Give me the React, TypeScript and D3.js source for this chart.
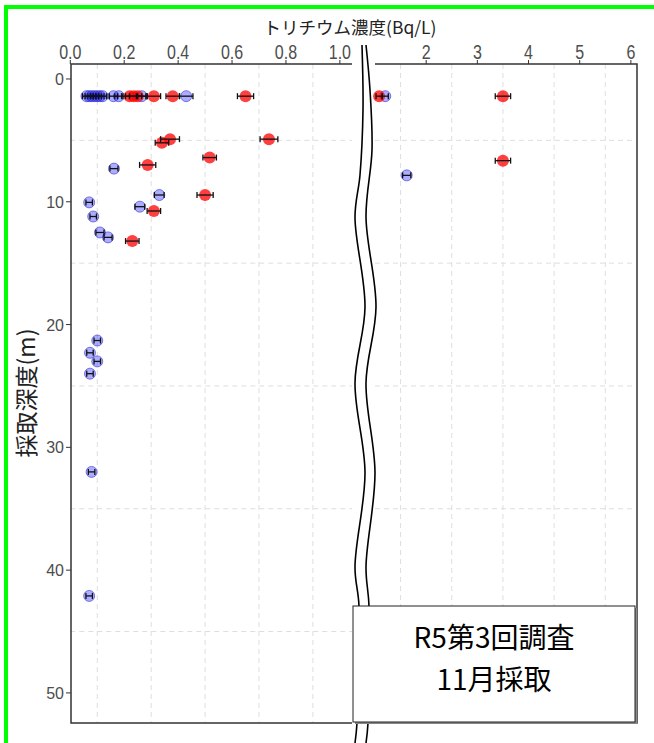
import React from "react";
import * as d3 from "d3";

// 採取深度(m) / トリチウム濃度(Bq/L) / 誤差
const blueDepth = [1.4, 1.4, 1.4, 1.4, 1.4, 1.4, 1.4, 1.4, 1.4, 1.4, 1.4, 1.4, 7.3, 9.45, 10.05, 10.4, 11.2, 12.5, 12.9, 7.85, 21.3, 22.3, 23.0, 24.0, 32.0, 42.1];
const blueValue = [0.06, 0.07, 0.08, 0.09, 0.1, 0.11, 0.12, 0.16, 0.18, 0.265, 0.43, 1.2, 0.162, 0.33, 0.07, 0.258, 0.085, 0.11, 0.14, 1.62, 0.1, 0.073, 0.1, 0.073, 0.079, 0.07];
const blueErr = [0.015, 0.015, 0.015, 0.015, 0.015, 0.015, 0.015, 0.015, 0.015, 0.02, 0.025, 0.06, 0.015, 0.018, 0.012, 0.018, 0.012, 0.015, 0.015, 0.08, 0.012, 0.012, 0.012, 0.012, 0.012, 0.012];

const redDepth = [1.4, 1.4, 1.4, 1.4, 1.4, 1.4, 1.4, 1.4, 4.9, 5.2, 4.9, 6.4, 7.0, 9.45, 10.75, 13.2, 6.65];
const redValue = [0.22, 0.235, 0.25, 0.31, 0.38, 0.65, 1.08, 3.5, 0.37, 0.34, 0.737, 0.517, 0.287, 0.5, 0.31, 0.23, 3.5];
const redErr = [0.03, 0.03, 0.03, 0.025, 0.025, 0.03, 0.06, 0.15, 0.035, 0.025, 0.033, 0.025, 0.03, 0.03, 0.025, 0.025, 0.15];

const leftTicks = [0, 0.2, 0.4, 0.6, 0.8, 1.0];
const rightTicks = [2, 3, 4, 5, 6];
const leftMinor = [0.1, 0.3, 0.5, 0.7, 0.9];
const rightMinor = [1.5, 2.5, 3.5, 4.5, 5.5];
const depthTicks = [0, 10, 20, 30, 40, 50];
const depthMinor = [5, 15, 25, 35, 45];

// 波線（省略記号）の通過点
const breakLeft: [number, number][] = [[362, 45], [363, 110], [360, 175], [355, 217], [365, 307], [355, 383], [365, 473], [355, 567], [359, 606], [357, 723], [355, 743]];
const breakRight: [number, number][] = [[366, 45], [370, 90], [372, 150], [366, 217], [376, 307], [366, 383], [375, 473], [366, 567], [369, 606], [368, 723], [366, 743]];

const TOP = 64, BOTTOM = 723;
const xL = d3.scaleLinear().domain([0, 1.045]).range([70.3, 352]);
const xR = d3.scaleLinear().domain([1, 6.12]).range([375, 637]);
const y = d3.scaleLinear().domain([-1.22, 52.45]).range([TOP, BOTTOM]);
const panelScale = (v: number) => (v > 1.045 ? xR : xL);

const grid = "#dedede";
const axisCol = "#4d4d4d";
const tickFont = "'Liberation Sans', Arial, sans-serif";
const jp = "'Noto Sans CJK JP', sans-serif";

function ErrBar({ v, d, e }: { v: number; d: number; e: number }) {
  const sx = panelScale(v);
  const x0 = sx(v - e), x1 = sx(v + e), yy = y(d);
  return (
    <g stroke="#111" strokeWidth={1.3}>
      <line x1={x0} x2={x1} y1={yy} y2={yy} />
      <line x1={x0} x2={x0} y1={yy - 3} y2={yy + 3} />
      <line x1={x1} x2={x1} y1={yy - 3} y2={yy + 3} />
    </g>
  );
}

export default function App() {
  const line = d3.line().curve(d3.curveCatmullRom);
  const band = line(breakLeft.concat(breakRight.slice().reverse()));
  return (
    <svg width={654} height={743} style={{ position: "absolute", left: 0, top: 0, background: "#fff" }}>
      <rect x={6} y={7} width={700} height={800} fill="#fff" stroke="#00ff00" strokeWidth={4} />

      {/* grid */}
      <g stroke={grid} strokeDasharray="5,4" strokeWidth={1}>
        {leftMinor.map((t) => <line key={"l" + t} x1={xL(t)} x2={xL(t)} y1={TOP} y2={BOTTOM} />)}
        {rightMinor.map((t) => <line key={"r" + t} x1={xR(t)} x2={xR(t)} y1={TOP} y2={BOTTOM} />)}
        {depthMinor.map((t) => (
          <g key={"d" + t}>
            <line x1={70.3} x2={352} y1={y(t)} y2={y(t)} />
            <line x1={375} x2={637} y1={y(t)} y2={y(t)} />
          </g>
        ))}
      </g>

      {/* panel borders */}
      <g stroke="#333" strokeWidth={1.5} fill="none">
        <polyline points={`352,${TOP} 71,${TOP} 71,${BOTTOM} 352,${BOTTOM}`} />
        <polyline points={`375,${TOP} 637,${TOP} 637,${BOTTOM} 375,${BOTTOM}`} />
      </g>

      {/* x ticks (top) */}
      <g fill={axisCol} fontFamily={tickFont} fontSize={16} textAnchor="middle">
        {leftTicks.map((t) => (
          <g key={"xl" + t}>
            <line x1={xL(t)} x2={xL(t)} y1={TOP - 4} y2={TOP} stroke="#333" />
            <text transform={`translate(${xL(t)},59) scale(1,1.25)`}>{t.toFixed(1)}</text>
          </g>
        ))}
        {rightTicks.map((t) => (
          <g key={"xr" + t}>
            <line x1={xR(t)} x2={xR(t)} y1={TOP - 4} y2={TOP} stroke="#333" />
            <text transform={`translate(${xR(t)},59) scale(1,1.25)`}>{t}</text>
          </g>
        ))}
      </g>

      {/* y ticks */}
      <g fill={axisCol} fontFamily={tickFont} fontSize={16} textAnchor="end">
        {depthTicks.map((t) => (
          <g key={"y" + t}>
            <line x1={66} x2={71} y1={y(t)} y2={y(t)} stroke="#333" />
            <text x={64} y={y(t) + 6}>{t}</text>
          </g>
        ))}
      </g>

      {/* titles */}
      <text x={350} y={34} textAnchor="middle" fontFamily={jp} fontSize={17.5} fill="#222">トリチウム濃度(Bq/L)</text>
      <text transform="translate(35,393) rotate(-90)" textAnchor="middle" fontFamily={jp} fontSize={23} fill="#222">採取深度(m)</text>

      {/* points */}
      <g>
        {blueValue.map((v, i) => (
          <circle key={"b" + i} cx={panelScale(v)(v)} cy={y(blueDepth[i])} r={5.5} fill="#0000ff" fillOpacity={0.32} stroke="#2222cc" strokeOpacity={0.55} strokeWidth={1} />
        ))}
        {redValue.map((v, i) => (
          <circle key={"r" + i} cx={panelScale(v)(v)} cy={y(redDepth[i])} r={6} fill="#ff0000" fillOpacity={0.75} />
        ))}
        {blueValue.map((v, i) => <ErrBar key={"be" + i} v={v} d={blueDepth[i]} e={blueErr[i]} />)}
        {redValue.map((v, i) => <ErrBar key={"re" + i} v={v} d={redDepth[i]} e={redErr[i]} />)}
      </g>

      {/* axis break */}
      <path d={band || ""} fill="#fff" stroke="none" />
      <path d={line(breakLeft) || ""} fill="none" stroke="#000" strokeWidth={1.6} />
      <path d={line(breakRight) || ""} fill="none" stroke="#000" strokeWidth={1.6} />

      {/* annotation */}
      <rect x={355} y={608} width={282} height={116} fill="#888" />
      <rect x={353} y={606} width={282} height={116} fill="#fff" stroke="#222" strokeWidth={1} />
      <g fontFamily={jp} fontSize={28} fill="#000" textAnchor="middle">
        <text x={494} y={648}>R5第3回調査</text>
        <text x={494} y={690}>11月採取</text>
      </g>
    </svg>
  );
}
